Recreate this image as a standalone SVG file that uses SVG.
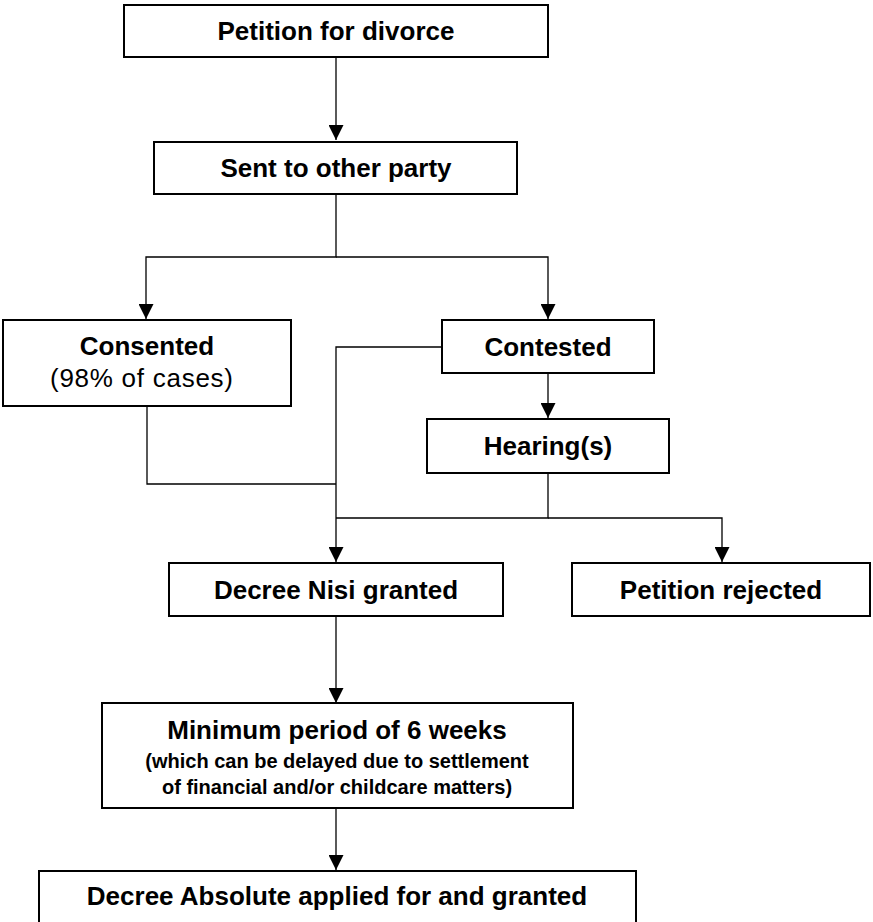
<svg xmlns="http://www.w3.org/2000/svg" width="873" height="922" viewBox="0 0 873 922">
<defs>
<marker id="ah" viewBox="0 0 15 15" refX="15" refY="7.5" markerWidth="15" markerHeight="15" markerUnits="userSpaceOnUse" orient="auto">
<path d="M0,0 L15,7.5 L0,15 Z" fill="#000"/>
</marker>
<style>
.box{fill:#fff;stroke:#000;stroke-width:2}
.t{font-family:"Liberation Sans",Arial,sans-serif;font-weight:bold;font-size:26px;text-anchor:middle;fill:#000}
.r{font-family:"Liberation Sans",Arial,sans-serif;font-size:26px;text-anchor:middle;fill:#000}
.s{font-family:"Liberation Sans",Arial,sans-serif;font-weight:bold;font-size:20px;text-anchor:middle;fill:#000}
.c{fill:none;stroke:#000;stroke-width:1.3}
</style>
</defs>
<rect width="873" height="922" fill="#fff"/>
<g id="connectors">
<path class="c" d="M336,57 V140" marker-end="url(#ah)"/>
<path class="c" d="M336,194 V257 H146 V319" marker-end="url(#ah)"/>
<path class="c" d="M336,257 H548 V319" marker-end="url(#ah)"/>
<path class="c" d="M548,373 V418" marker-end="url(#ah)"/>
<path class="c" d="M442,347 H336 V562" marker-end="url(#ah)"/>
<path class="c" d="M147,406 V484 H336"/>
<path class="c" d="M548,473 V518 H336"/>
<path class="c" d="M548,518 H722 V562" marker-end="url(#ah)"/>
<path class="c" d="M336,616 V703" marker-end="url(#ah)"/>
<path class="c" d="M336,808 V870" marker-end="url(#ah)"/>
</g>
<g id="petition">
<rect class="box" x="124" y="5" width="424" height="52"/>
<text class="t" x="336" y="40">Petition for divorce</text>
</g>
<g id="sent">
<rect class="box" x="154" y="142" width="363" height="52"/>
<text class="t" x="336" y="177">Sent to other party</text>
</g>
<g id="consented">
<rect class="box" x="3" y="320" width="288" height="86"/>
<text class="t" x="147" y="355">Consented</text>
<text class="r" x="141.5" y="387" textLength="183" lengthAdjust="spacing">(98% of cases)</text>
</g>
<g id="contested">
<rect class="box" x="442" y="320" width="212" height="53"/>
<text class="t" x="548" y="356">Contested</text>
</g>
<g id="hearing">
<rect class="box" x="427" y="419" width="242" height="54"/>
<text class="t" x="548" y="455">Hearing(s)</text>
</g>
<g id="nisi">
<rect class="box" x="169" y="563" width="334" height="53"/>
<text class="t" x="336" y="599">Decree Nisi granted</text>
</g>
<g id="rejected">
<rect class="box" x="572" y="563" width="298" height="53"/>
<text class="t" x="721" y="599">Petition rejected</text>
</g>
<g id="minimum">
<rect class="box" x="102" y="703" width="471" height="105"/>
<text class="t" x="337" y="739">Minimum period of 6 weeks</text>
<text class="s" x="337" y="768">(which can be delayed due to settlement</text>
<text class="s" x="337" y="794">of financial and/or childcare matters)</text>
</g>
<g id="absolute">
<rect class="box" x="39" y="871" width="597" height="70"/>
<text class="t" x="337" y="905">Decree Absolute applied for and granted</text>
</g>
</svg>
